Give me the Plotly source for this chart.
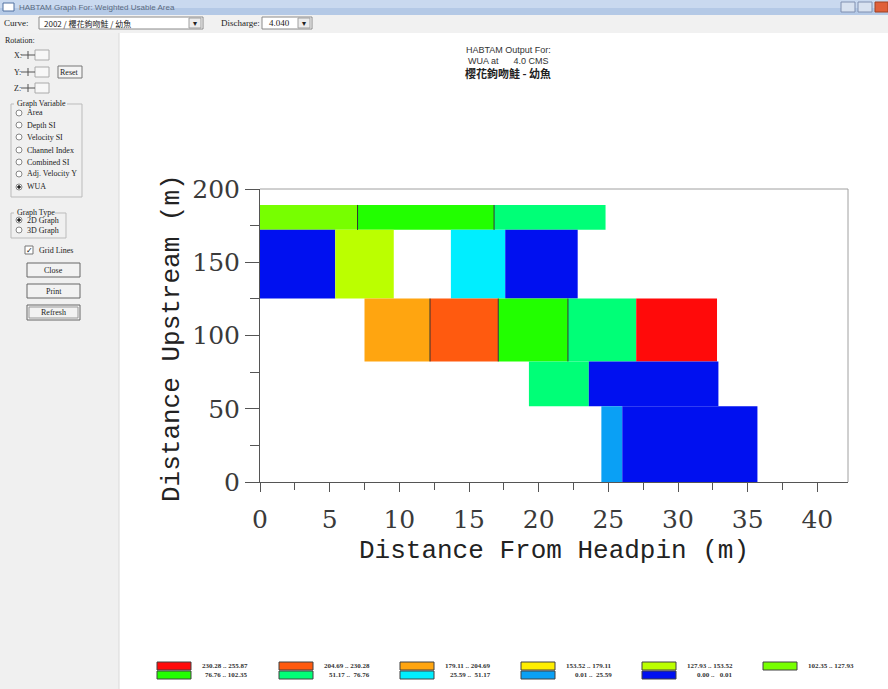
import plotly.graph_objects as go

# ---------------- data ----------------
# WUA classes (legend order) and their fill colours
class_labels = ["230.28 .. 255.87", "204.69 .. 230.28", "179.11 .. 204.69",
                "153.52 .. 179.11", "127.93 .. 153.52", "102.35 .. 127.93",
                "76.76 .. 102.35", "51.17 ..  76.76", "25.59 ..  51.17",
                "0.01 ..  25.59", "0.00 ..   0.01"]
class_colors = ["#FF0A0A", "#FF5A0F", "#FFA510", "#FFEE00", "#BBFF00", "#77FF00",
                "#22FF00", "#00FF77", "#00EEFF", "#0AA0F5", "#0010F0"]

# cells: headpin distance span, upstream span, WUA class
cell_x0 = [0.0, 7.0, 16.8, 0.0, 5.4, 13.7, 17.6, 7.5, 12.2, 17.1, 22.1, 27.0, 19.3, 23.6, 24.5, 26.0]
cell_x1 = [7.0, 16.8, 24.8, 5.4, 9.6, 17.6, 22.8, 12.2, 17.1, 22.1, 27.0, 32.8, 23.6, 32.9, 26.0, 35.7]
cell_y0 = [172.1, 172.1, 172.1, 125.2, 125.2, 125.2, 125.2, 82.3, 82.3, 82.3, 82.3, 82.3, 51.7, 51.7, 0.0, 0.0]
cell_y1 = [189.1, 189.1, 189.1, 172.1, 172.1, 172.1, 172.1, 125.2, 125.2, 125.2, 125.2, 125.2, 82.3, 82.3, 51.7, 51.7]
cell_class = [5, 6, 7, 10, 4, 8, 10, 2, 1, 6, 7, 0, 7, 10, 9, 10]

# cell divisions drawn as thin dark lines
div_x = [7.0, 16.8, 12.2, 17.1, 22.1]
div_y0 = [172.1, 172.1, 82.3, 82.3, 82.3]
div_y1 = [189.1, 189.1, 125.2, 125.2, 125.2]

x_ticks = [0, 5, 10, 15, 20, 25, 30, 35, 40]
y_ticks = [0, 50, 100, 150, 200]

# ---------------- page geometry ----------------
W, H = 888, 689
L, R, T, B = 260, 848, 189, 482


def px(x):
    return (x - L) / (R - L)


def py(y):
    return (B - y) / (B - T)


fig = go.Figure()

for x0, x1, y0, y1, c in zip(cell_x0, cell_x1, cell_y0, cell_y1, cell_class):
    fig.add_trace(go.Scatter(
        x=[x0, x1, x1, x0, x0], y=[y0, y0, y1, y1, y0],
        mode="lines", fill="toself", fillcolor=class_colors[c],
        line=dict(width=0, color=class_colors[c]),
        hoverinfo="skip", showlegend=False))

for x, y0, y1 in zip(div_x, div_y0, div_y1):
    fig.add_trace(go.Scatter(x=[x, x], y=[y0, y1], mode="lines",
                             line=dict(width=1, color="#333333"),
                             hoverinfo="skip", showlegend=False))

shapes = []
ann = []


def rect(x0, y0, x1, y1, fill, line="rgba(0,0,0,0)", lw=0, layer="below"):
    shapes.append(dict(type="rect", xref="paper", yref="paper",
                       x0=px(x0), x1=px(x1), y0=py(y1), y1=py(y0),
                       fillcolor=fill, line=dict(color=line, width=lw), layer=layer))


def text(x, y, s, size=9, color="#222222", family="Liberation Serif",
         xanchor="left", bold=False):
    if bold:
        s = "<b>" + s + "</b>"
    ann.append(dict(xref="paper", yref="paper", x=px(x), y=py(y), text=s,
                    showarrow=False, xanchor=xanchor, yanchor="middle",
                    font=dict(size=size, color=color, family=family)))


def circle(cx, cy, r, fill, line):
    shapes.append(dict(type="circle", xref="paper", yref="paper",
                       x0=px(cx - r), x1=px(cx + r), y0=py(cy + r), y1=py(cy - r),
                       fillcolor=fill, line=dict(color=line, width=1), layer="above"))


# window chrome
rect(0, 0, 888, 8, "#C9D9EF")
rect(0, 8, 888, 15, "#B4C9E6")
rect(3, 3, 14, 11, "#FFFFFF", "#5070A0", 1)
text(17, 7, "HABTAM Graph For: Weighted Usable Area", 8, "#5A6A80", "Liberation Sans")
rect(841, 2, 855, 12, "#D8E2F0", "#8090B0", 1)
rect(858, 2, 872, 12, "#D8E2F0", "#8090B0", 1)
rect(875, 2, 888, 12, "#E0603A", "#A04020", 1)
rect(0, 15, 888, 33, "#F1F1F1")
rect(0, 33, 119, 689, "#F0F0F0")
shapes.append(dict(type="line", xref="paper", yref="paper", x0=px(119), x1=px(119),
                   y0=py(33), y1=py(689), line=dict(color="#DADADA", width=1)))

text(2, 23, "Curve:", 9)
rect(39, 17, 203, 29, "#FFFFFF", "#8A8A8A", 1)
text(42, 23, "2002 / 櫻花鉤吻鮭 / 幼魚", 8, "#222222", "Noto Sans CJK TC")
rect(189, 18, 201, 28, "#ECECEC", "#A0A0A0", 1)
text(195, 23, "▾", 8, "#222222", "DejaVu Sans", "center")
text(219, 23, "Discharge:", 9)
rect(262, 17, 312, 29, "#FFFFFF", "#8A8A8A", 1)
text(267, 23, "4.040", 9)
rect(298, 18, 310, 28, "#ECECEC", "#A0A0A0", 1)
text(304, 23, "▾", 8, "#222222", "DejaVu Sans", "center")

# left control panel
text(3, 40, "Rotation:", 8)
for lab, yy in [("X:", 55), ("Y:", 72), ("Z:", 88)]:
    text(12, yy, lab, 8)
    shapes.append(dict(type="line", xref="paper", yref="paper", x0=px(21), x1=px(35),
                       y0=py(yy), y1=py(yy), line=dict(color="#555555", width=1)))
    shapes.append(dict(type="line", xref="paper", yref="paper", x0=px(28), x1=px(28),
                       y0=py(yy - 4), y1=py(yy + 4), line=dict(color="#555555", width=1)))
    rect(35, yy - 5, 49, yy + 5, "#F7F7F7", "#AAAAAA", 1)
rect(58, 66, 82, 78, "#F4F4F4", "#777777", 1)
text(70, 72, "Reset", 8, xanchor="center")

rect(11, 104, 82, 197, "rgba(0,0,0,0)", "#BBBBBB", 1)
rect(14, 99, 67, 108, "#F0F0F0")
text(15, 103, "Graph Variable", 8)
var_items = ["Area", "Depth SI", "Velocity SI", "Channel Index", "Combined SI",
             "Adj. Velocity Y", "WUA"]
var_y = [113, 125, 137, 150, 162, 174, 187]
for i, (lab, yy) in enumerate(zip(var_items, var_y)):
    circle(19, yy, 3, "#FFFFFF", "#888888")
    if lab == "WUA":
        circle(19, yy, 1.3, "#222222", "#222222")
    text(25, yy, lab, 8)

rect(11, 213, 66, 238, "rgba(0,0,0,0)", "#BBBBBB", 1)
rect(14, 208, 55, 217, "#F0F0F0")
text(15, 212, "Graph Type", 8)
for lab, yy, sel in [("2D Graph", 220, True), ("3D Graph", 230, False)]:
    circle(19, yy, 3, "#FFFFFF", "#888888")
    if sel:
        circle(19, yy, 1.3, "#222222", "#222222")
    text(25, yy, lab, 8)

rect(25, 246, 33, 254, "#FFFFFF", "#777777", 1)
text(29, 250, "✓", 8, "#111111", "DejaVu Sans", "center")
text(37, 250, "Grid Lines", 8)
for lab, y0, y1 in [("Close", 263, 277), ("Print", 284, 298), ("Refresh", 305, 320)]:
    rect(27, y0, 80, y1, "#F2F2F2", "#666666", 1)
    text(53.5, (y0 + y1) / 2, lab, 8, xanchor="center")
rect(29, 307, 78, 318, "rgba(0,0,0,0)", "#999999", 1)

# chart heading
text(508, 50, "HABTAM Output For:", 9, "#333333", "Liberation Sans", "center")
text(508, 61, "WUA at\u00a0\u00a0\u00a0\u00a0\u00a0\u00a04.0 CMS", 9, "#333333",
     "Liberation Sans", "center")
text(508, 73, "櫻花鉤吻鮭 - 幼魚", 11, "#222222", "Noto Sans CJK TC", "center", bold=True)

# plot frame top / right edge
shapes.append(dict(type="line", xref="paper", yref="paper", x0=0, x1=1, y0=1, y1=1,
                   line=dict(color="#A0A0A0", width=1)))
shapes.append(dict(type="line", xref="paper", yref="paper", x0=1, x1=1, y0=0, y1=1,
                   line=dict(color="#A0A0A0", width=1)))

# axis titles
title_font = dict(size=26, color="#222222", family="Liberation Mono")
ann.append(dict(xref="paper", yref="paper", x=px(554), y=py(551),
                text="Distance From Headpin (m)", showarrow=False,
                xanchor="center", yanchor="middle", font=title_font))
ann.append(dict(xref="paper", yref="paper", x=px(172), y=py(338),
                text="Distance Upstream (m)", showarrow=False, textangle=-90,
                xanchor="center", yanchor="middle", font=title_font))

# legend (two class rows per column)
sw_left = [157, 279, 400, 521, 642, 763]
for i, (lab, col) in enumerate(zip(class_labels, class_colors)):
    c = i % 6
    r = i // 6
    y0, y1 = (662, 670) if r == 0 else (671, 679)
    rect(sw_left[c], y0, sw_left[c] + 34, y1, col, "#404040", 1)
    text(sw_left[c] + 93, (y0 + y1) / 2 - 0.5, lab.replace(" ", "\u00a0"), 7,
         "#333333", "Liberation Serif", "right", bold=True)

axis_font = dict(size=25, color="#3A3A3A", family="DejaVu Serif")
fig.update_layout(
    width=W, height=H,
    margin=dict(l=L, r=W - R, t=T, b=H - B, pad=0),
    paper_bgcolor="#FFFFFF", plot_bgcolor="#FFFFFF",
    showlegend=False,
    shapes=shapes, annotations=ann,
    xaxis=dict(range=[0, 42.2], tickvals=x_ticks, ticks="outside", ticklen=9,
               tickcolor="#555555", showline=True, linecolor="#555555",
               showgrid=False, zeroline=False, tickfont=axis_font,
               ticklabelstandoff=6,
               minor=dict(dtick=2.5, tick0=0, ticks="outside", ticklen=7,
                          tickcolor="#555555", showgrid=False),
               fixedrange=True),
    yaxis=dict(range=[0, 200], tickvals=y_ticks, ticks="outside", ticklen=14,
               tickcolor="#555555", showline=True, linecolor="#555555",
               showgrid=False, zeroline=False, tickfont=axis_font,
               minor=dict(dtick=25, tick0=0, ticks="outside", ticklen=9,
                          tickcolor="#555555", showgrid=False),
               fixedrange=True),
)

fig.write_html("out.html", config={"displayModeBar": False})
